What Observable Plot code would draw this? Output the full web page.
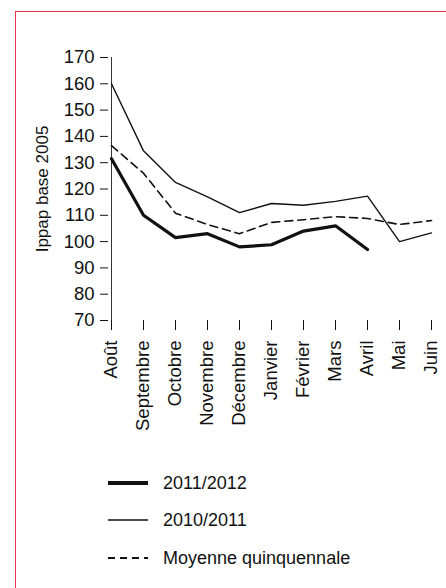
<!DOCTYPE html>
<html><head><meta charset="utf-8">
<script src="https://cdn.jsdelivr.net/npm/d3@7"></script>
<script src="https://cdn.jsdelivr.net/npm/@observablehq/plot@0.6"></script>
<style>
body{margin:0;background:#fff;font-family:"Liberation Sans",Arial,sans-serif;overflow:hidden;}
#frame{position:absolute;left:15px;top:11px;width:431px;height:577px;border-top:1.5px solid #e8344f;border-left:1.5px solid #e8344f;}
#chart{position:absolute;left:0;top:0;}
#chart svg text{font-size:18.5px;}
#chart svg text.ylab{font-size:17px;}
#legend{position:absolute;left:108px;top:464px;font-size:18px;color:#111;line-height:20px;}
.row{display:flex;align-items:center;height:37.5px;}
.row svg{margin-right:15px;}
</style></head><body>
<div id="frame"></div>
<div id="chart"></div>
<div id="legend"></div>
<script>
const months = ["Août","Septembre","Octobre","Novembre","Décembre","Janvier","Février","Mars","Avril","Mai","Juin"];
const s2011_2012 = [131.5,110,101.5,103,98,98.8,104,106,97];
const s2010_2011 = [160,134.5,122.5,117,111,114.5,113.8,115.3,117.3,100,103.3];
const moyenne = [136.5,126,110.8,106.5,103,107.3,108.3,109.5,108.8,106.5,108];
const yTicks = [70,80,90,100,110,120,130,140,150,160,170];
const seriesNames = ["2011/2012","2010/2011","Moyenne quinquennale"];

const toRows = (vals) => vals.map((v,i)=>({m:months[i], v}));
const plot = Plot.plot({
  width:446, height:470,
  marginLeft:108, marginRight:12, marginTop:57, marginBottom:150,
  style:{fontFamily:"Liberation Sans, Arial, sans-serif", color:"#111", background:"transparent"},
  x:{type:"point", domain:months, label:null, padding:0},
  y:{domain:[70,170], label:null},
  marks:[
    Plot.axisY({ticks:yTicks, tickSize:8, tickPadding:6, label:null}),
    Plot.axisX({tickRotate:-90, tickSize:10, tickPadding:10, label:null}),
    Plot.ruleX([months[0]], {y1:70, y2:170, stroke:"#333"}),
    Plot.ruleY([70], {x1:months[0], x2:months[months.length-1], stroke:"#333", insetLeft:-8}),
    Plot.line(toRows(moyenne), {x:"m", y:"v", stroke:"#111", strokeWidth:1.6, strokeDasharray:"8,5"}),
    Plot.line(toRows(s2010_2011), {x:"m", y:"v", stroke:"#111", strokeWidth:1.4}),
    Plot.line(toRows(s2011_2012), {x:"m", y:"v", stroke:"#111", strokeWidth:3.2}),
    Plot.text(["Ippap base 2005"], {frameAnchor:"left", textAnchor:"middle", dx:-66, dy:0, rotate:-90})
  ]
});
plot.querySelectorAll("g[aria-label='text'] text").forEach(t=>t.setAttribute("class","ylab"));
document.getElementById("chart").appendChild(plot);

const styles = [{w:4,d:""},{w:1.6,d:""},{w:2,d:"7,5"}];
document.getElementById("legend").innerHTML = seriesNames.map((n,i)=>
 `<div class="row"><svg width="40" height="6"><line x1="0" y1="3" x2="40" y2="3" stroke="#111" stroke-width="${styles[i].w}" stroke-dasharray="${styles[i].d}"/></svg><span>${n}</span></div>`).join("");
</script>
</body></html>
